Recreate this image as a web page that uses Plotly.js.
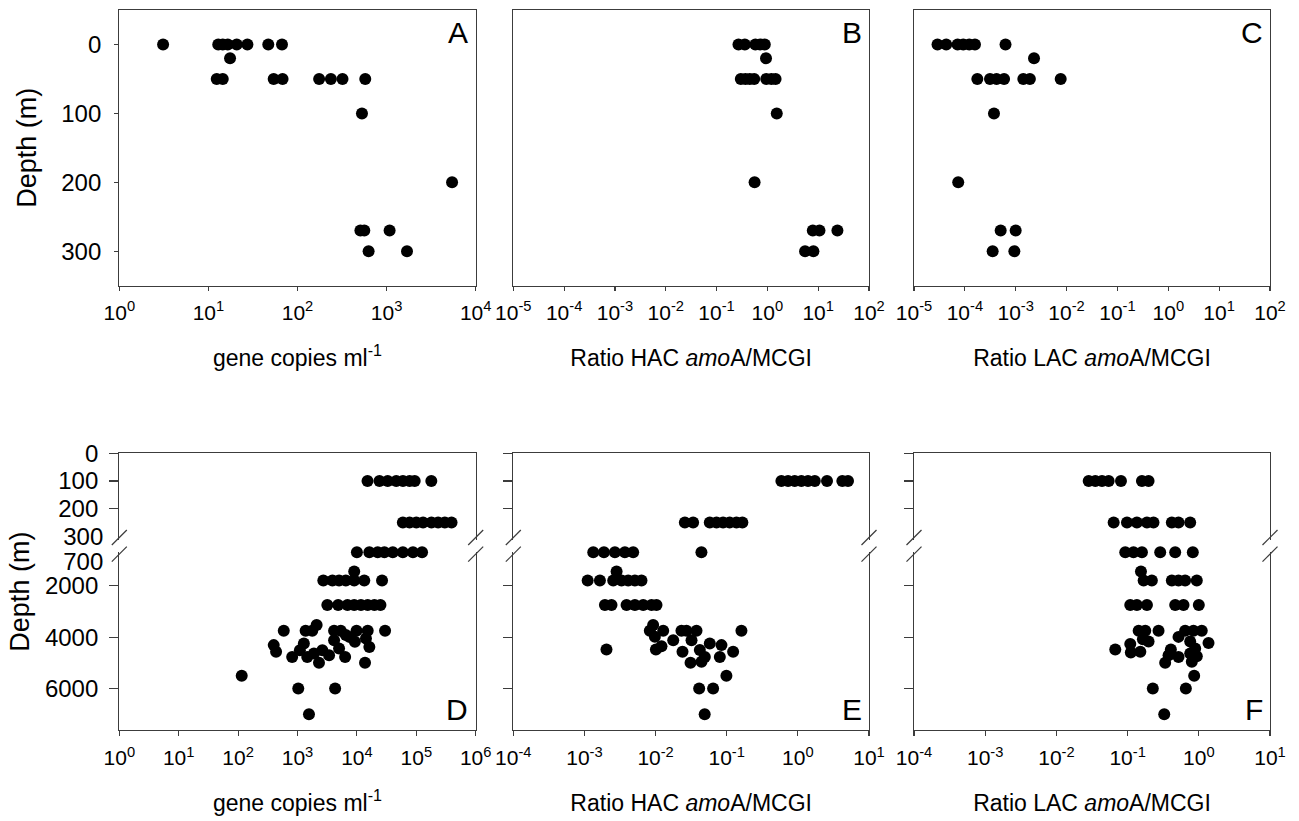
<!DOCTYPE html>
<html><head><meta charset="utf-8">
<script src="https://cdn.plot.ly/plotly-3.0.1.min.js"></script>
<style>html,body{margin:0;padding:0;background:#fff}#chart{width:1299px;height:821px}</style>
</head><body><div id="chart"></div>
<script>
// ---------- data ----------
const A_depth = [0,0,0,0,0,0,0,0, 20, 50,50,50,50,50,50,50,50, 100, 200, 270,270,270, 300,300];
const A_copies = [3.1,12.9,14.5,16.5,20.8,27.4,47,67, 17.5, 12.4,14.5,54,68,175,237,320,576, 529, 5430, 508,562,1081, 628,1694];

const B_depth = [0,0,0,0,0, 20, 50,50,50,50,50,50,50, 100, 200, 270,270,270, 300,300];
const B_ratio = [0.27,0.36,0.58,0.72,0.89, 0.94, 0.30,0.37,0.45,0.55,0.95,1.2,1.45, 1.53, 0.56, 7.83,10.6,23.9, 5.52,8.05];

const C_depth = [0,0,0,0,0,0,0, 20, 50,50,50,50,50,50,50, 100, 200, 270,270, 300,300];
const C_ratio = [2.9e-5,4.3e-5,7.2e-5,9.3e-5,1.22e-4,1.58e-4,6.3e-4, 2.29e-3, 1.76e-4,3.12e-4,4.2e-4,5.9e-4,1.41e-3,1.9e-3,7.66e-3, 3.74e-4, 7.4e-5, 5.06e-4,9.98e-4, 3.52e-4,9.4e-4];

const D_depth = [
 100,100,100,100,100,100,100,100,
 250,250,250,250,250,250,250,250,
 700,700,700,700,700,700,700,700,
 1800,1800,1800,1800,1800,1800,1800,1450,
 2750,2750,2750,2750,2750,2750,2750,2750,
 3750,3750,3750,3750,3750,3750,3750,3750,3530,
 4310,4570,4770,4250,4510,4770,4640,5000,4510,4700,4120,4440,3920,4770,3990,4180,4050,4380,5000,
 5500,6000,6000,7000];
const D_copies = [
 15100,24000,33000,46000,59600,77000,94000,179000,
 59400,77100,100000,130000,180000,233000,302000,392000,
 10000,16200,22400,29000,40200,59400,87900,125000,
 2720,3870,5010,6510,9010,13300,26500,9010,
 3180,4830,6950,9010,11700,15200,19700,24900,
 587,1370,1770,4130,5350,9860,15200,29800,2100,
 398,436,813,1280,1096,1460,1890,2300,2620,3400,4130,5010,6510,6340,7410,9250,14200,16200,13700,
 115,1030,4300,1560];

const E_depth = [
 100,100,100,100,100,100,100,100,100,
 250,250,250,250,250,250,250,250,
 700,700,700,700,700,700,
 1800,1800,1800,1800,1800,1800,1800,1450,
 2750,2750,2750,2750,2750,2750,2750,
 3750,3750,3750,3750,3750,3750,3530,
 4480,3985,4480,4350,4120,4570,4120,5000,4500,4960,4770,4250,4770,4310,4570,
 5500,6000,6000,7000];
const E_ratio = [
 0.587,0.728,0.903,1.12,1.39,1.73,2.57,4.22,5.07,
 0.0258,0.0337,0.0578,0.0718,0.0889,0.110,0.137,0.166,
 0.00133,0.00188,0.00268,0.0037,0.00484,0.0441,
 0.00111,0.00165,0.00254,0.00332,0.00412,0.00512,0.00634,0.00283,
 0.00194,0.0024,0.00391,0.00512,0.0067,0.00877,0.0103,
 0.0083,0.0128,0.0231,0.0272,0.0376,0.161,0.00924,
 0.00204,0.00977,0.0101,0.0121,0.0177,0.0239,0.032,0.031,0.0419,0.0442,0.0492,0.0578,0.080,0.0844,0.123,
 0.099,0.041,0.0644,0.049];

const F_depth = [
 100,100,100,100,100,100,100,
 250,250,250,250,250,250,250,250,
 700,700,700,700,700,700,
 1800,1800,1800,1800,1800,1800,1450,
 2750,2750,2750,2750,2750,2750,
 3750,3750,3750,3750,3750,3750,
 4480,4270,4600,4570,4080,4170,5000,4700,4480,4770,3990,4170,4640,4960,4440,4740,4230,
 5500,6000,6000,7000];
const F_ratio = [
 0.0284,0.0352,0.0437,0.0542,0.0807,0.159,0.197,
 0.0637,0.098,0.135,0.187,0.231,0.418,0.519,0.757,
 0.0927,0.121,0.159,0.287,0.466,0.824,
 0.168,0.219,0.418,0.519,0.643,0.937,0.154,
 0.109,0.135,0.187,0.466,0.61,1.0,
 0.143,0.177,0.272,0.643,0.841,1.1,
 0.0671,0.109,0.111,0.151,0.164,0.197,0.337,0.376,0.405,0.519,0.519,0.757,0.757,0.798,0.889,0.937,1.37,
 0.861,0.226,0.658,0.327];

// tick labels (exponents of ten) and depth ticks
const A_exp = [0,1,2,3,4];
const BC_exp = [-5,-4,-3,-2,-1,0,1,2];
const D_exp = [0,1,2,3,4,5,6];
const EF_exp = [-4,-3,-2,-1,0,1];
const topDepthTicks = [0,100,200,300];
const upperDepthTicks = [0,100,200];
const lowerDepthTicks = [2000,4000,6000];
const panelLetters = ['A','B','C','D','E','F'];
const xTitles = ['gene copies ml<sup>-1</sup>','Ratio HAC <i>amo</i>A/MCGI','Ratio LAC <i>amo</i>A/MCGI'];
const yTitle = 'Depth (m)';

// ---------- layout helpers ----------
const W = 1299, H = 821;
const fx = p => p / W, fy = p => 1 - p / H;
const cols = [[119.3,475.7],[513.3,869],[914,1270]];
const rowTop = [10,285.7], segU = [453.3,540], segL = [552,730];
const FONT = '"Liberation Sans",Arial,sans-serif';
const LC = '#3c3c3c';
const expLabels = e => e.map(v => '10<sup>' + v + '</sup>');
const expVals = e => e.map(v => Math.pow(10, v));

const base = {showgrid:false, zeroline:false, showline:true, linecolor:LC, linewidth:1.2,
  tickcolor:LC, tickwidth:1.2, tickfont:{family:FONT, size:21, color:'#000'}};

const layout = {width:W, height:H, margin:{l:0,r:0,t:0,b:0}, showlegend:false,
  paper_bgcolor:'#fff', plot_bgcolor:'rgba(0,0,0,0)', annotations:[], shapes:[]};

const topX = [A_exp, BC_exp, BC_exp], botX = [D_exp, EF_exp, EF_exp];
const traces = [];
const mk = {color:'#000', size:12, line:{width:0}};
const topData = [[A_copies,A_depth],[B_ratio,B_depth],[C_ratio,C_depth]];
const botData = [[D_copies,D_depth],[E_ratio,E_depth],[F_ratio,F_depth]];

for (let i = 0; i < 3; i++) {
  const dom = [fx(cols[i][0]), fx(cols[i][1])];
  const n = i + 1, nl = i + 4, nu = i + 7;
  const te = topX[i], be = botX[i];
  // top row
  layout['xaxis' + n] = Object.assign({}, base, {type:'log', domain:dom, anchor:'y' + n,
    range:[te[0], te[te.length-1]], mirror:true, ticks:'outside', ticklen:4,
    tickmode:'array', tickvals:expVals(te), ticktext:expLabels(te), ticklabelstandoff:4,
    title:{text:xTitles[i], font:{family:FONT, size:23, color:'#000'}, standoff:26}});
  layout['yaxis' + n] = Object.assign({}, base, {domain:[fy(rowTop[1]), fy(rowTop[0])], anchor:'x' + n,
    range:[350,-50], mirror:true, ticks: i === 0 ? 'outside' : '', ticklen:4,
    tickmode:'array', tickvals:topDepthTicks, showticklabels: i === 0, ticklabelstandoff:8,
    tickfont:{family:FONT, size:24, color:'#000'},
    title: i === 0 ? {text:yTitle, font:{family:FONT, size:27, color:'#000'}, standoff:16} : {text:''}});
  // bottom lower segment
  layout['xaxis' + nl] = Object.assign({}, base, {type:'log', domain:dom, anchor:'y' + nl,
    range:[be[0], be[be.length-1]], mirror:false, ticks:'outside', ticklen:5,
    tickmode:'array', tickvals:expVals(be), ticktext:expLabels(be), ticklabelstandoff:4,
    title:{text:xTitles[i], font:{family:FONT, size:23, color:'#000'}, standoff:26}});
  layout['yaxis' + nl] = Object.assign({}, base, {domain:[fy(segL[1]), fy(segL[0])], anchor:'x' + nl,
    range:[7610,690], mirror:true, ticks:'outside', ticklen:9,
    tickmode:'array', tickvals:lowerDepthTicks, showticklabels: i === 0, ticklabelstandoff:6,
    tickfont:{family:FONT, size:24, color:'#000'}});
  // bottom upper segment
  layout['xaxis' + nu] = Object.assign({}, base, {type:'log', domain:dom, anchor:'y' + nu, side:'top',
    range:[be[0], be[be.length-1]], ticks:'', showticklabels:false});
  layout['yaxis' + nu] = Object.assign({}, base, {domain:[fy(segU[1]), fy(segU[0])], anchor:'x' + nu,
    range:[313,0], mirror:true, ticks:'outside', ticklen:9,
    tickmode:'array', tickvals:upperDepthTicks, showticklabels: i === 0, ticklabelstandoff:6,
    tickfont:{family:FONT, size:24, color:'#000'}});

  traces.push({type:'scatter', mode:'markers', x:topData[i][0], y:topData[i][1],
    xaxis:'x' + n, yaxis:'y' + n, marker:mk, cliponaxis:false});
  const bx = botData[i][0], by = botData[i][1];
  const up = by.map((d, k) => d <= 313 ? k : -1).filter(k => k >= 0);
  const lo = by.map((d, k) => d > 313 ? k : -1).filter(k => k >= 0);
  traces.push({type:'scatter', mode:'markers', x:up.map(k => bx[k]), y:up.map(k => by[k]),
    xaxis:'x' + nu, yaxis:'y' + nu, marker:mk, cliponaxis:false});
  traces.push({type:'scatter', mode:'markers', x:lo.map(k => bx[k]), y:lo.map(k => by[k]),
    xaxis:'x' + nl, yaxis:'y' + nl, marker:mk, cliponaxis:false});

  // panel letters
  layout.annotations.push({xref:'x' + n + ' domain', yref:'y' + n + ' domain', x:0.985, y:0.985,
    xanchor:'right', yanchor:'top', text:panelLetters[i], showarrow:false,
    font:{family:FONT, size:30, color:'#000'}});
  layout.annotations.push({xref:'x' + nl + ' domain', yref:'y' + nl + ' domain', x:0.985, y:0.01,
    xanchor:'right', yanchor:'bottom', text:panelLetters[i + 3], showarrow:false,
    font:{family:FONT, size:30, color:'#000'}});

  // axis-break marks on both vertical edges
  [cols[i][0], cols[i][1]].forEach(xe => {
    [[545,530],[561.7,546.7]].forEach(([ya, yb]) => {
      layout.shapes.push({type:'line', xref:'paper', yref:'paper',
        x0:fx(xe - 7.5), y0:fy(ya), x1:fx(xe + 7.5), y1:fy(yb), line:{color:LC, width:1.2}});
    });
  });
}

// extra labels 300 and 700 without tick marks, and the bottom-row depth title
layout.yaxis10 = Object.assign({}, base, {overlaying:'y7', anchor:'x7', side:'left', range:[313,0],
  showline:false, ticks:'', tickmode:'array', tickvals:[300], ticklabelstandoff:15,
  tickfont:{family:FONT, size:24, color:'#000'}});
layout.yaxis11 = Object.assign({}, base, {overlaying:'y4', anchor:'x4', side:'left', range:[7610,690],
  showline:false, ticks:'', tickmode:'array', tickvals:[700], ticklabelstandoff:15, ticklabelshift:-9,
  tickfont:{family:FONT, size:24, color:'#000'}});
layout.yaxis12 = Object.assign({}, base, {domain:[fy(segL[1]), fy(segU[0])], anchor:'x4', range:[0,1],
  showline:false, ticks:'', showticklabels:false,
  title:{text:yTitle, font:{family:FONT, size:27, color:'#000'}, standoff:80}});
traces.push({type:'scatter', mode:'markers', x:[], y:[], xaxis:'x7', yaxis:'y10'});
traces.push({type:'scatter', mode:'markers', x:[], y:[], xaxis:'x4', yaxis:'y11'});
traces.push({type:'scatter', mode:'markers', x:[], y:[], xaxis:'x4', yaxis:'y12'});

Plotly.newPlot('chart', traces, layout, {staticPlot:true});
</script></body></html>
